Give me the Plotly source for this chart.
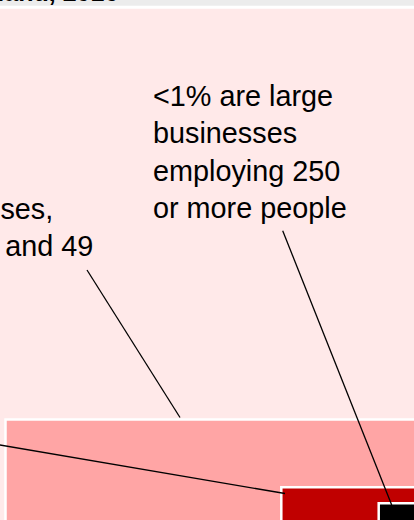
import plotly.graph_objects as go

# Business size bands drawn as nested blocks (chart units, origin top-left, y downwards)
bands = ["Small (10-49 employees)", "Medium (50-249 employees)", "Large (250+ employees)"]
band_x0 = [5.5, 281.3, 378.7]
band_y0 = [419.5, 487.3, 503.3]
band_x1 = [440, 440, 440]
band_y1 = [560, 560, 560]
band_colors = ["#FFA5A5", "#C00000", "#000000"]

# Callout texts
label_texts = [
    "<1% are large<br>businesses<br>employing 250<br>or more people",
    "small businesses,<br>employing 10 and 49",
]
label_x = [152, -175.5]
label_y = [78.5, 192]

# Leader lines from callouts to their blocks
leader_x0 = [282.7, 87, -40]
leader_y0 = [230.7, 270, 438.2]
leader_x1 = [391.7, 180, 285]
leader_y1 = [505, 417.5, 493.5]

title_text = "Businesses by size, Scotland, 2016"

W, H = 414, 520
FONT = "Liberation Sans, Arial, sans-serif"


def px(x):
    # chart units -> paper fraction (horizontal)
    return x / W


def py(y):
    # chart units (downwards) -> paper fraction (upwards)
    return 1 - y / H


fig = go.Figure()

shapes = []
# header strip and chart panel
shapes.append(dict(type="rect", xref="x", yref="y", x0=-10, x1=440, y0=-40, y1=5.7,
                   fillcolor="#ECECEC", line=dict(width=0), layer="below"))
shapes.append(dict(type="rect", xref="x", yref="y", x0=-10, x1=440, y0=8.7, y1=560,
                   fillcolor="#FFE9E9", line=dict(width=0), layer="below"))

for x0, y0, x1, y1, c in zip(band_x0, band_y0, band_x1, band_y1, band_colors):
    shapes.append(dict(type="rect", xref="x", yref="y", x0=x0, y0=y0, x1=x1, y1=y1,
                       fillcolor=c, line=dict(color="white", width=2.5), layer="below"))

for x0, y0, x1, y1 in zip(leader_x0, leader_y0, leader_x1, leader_y1):
    shapes.append(dict(type="line", xref="x", yref="y", x0=x0, y0=y0, x1=x1, y1=y1,
                       line=dict(color="black", width=1.3)))

annotations = []
for t, x, y in zip(label_texts, label_x, label_y):
    annotations.append(dict(text=t, x=px(x), y=py(y), xref="paper", yref="paper",
                            xanchor="left", yanchor="top", align="left",
                            showarrow=False, borderpad=0,
                            font=dict(family=FONT, size=28.8, color="black")))

annotations.append(dict(text="<b>" + title_text + "</b>", x=px(119), y=py(7.4),
                        xref="paper", yref="paper",
                        xanchor="right", yanchor="bottom", showarrow=False, borderpad=0,
                        font=dict(family=FONT, size=25, color="black")))

fig.update_layout(
    width=W, height=H,
    margin=dict(l=0, r=0, t=0, b=0),
    paper_bgcolor="white", plot_bgcolor="white",
    xaxis=dict(range=[0, W], visible=False, fixedrange=True),
    yaxis=dict(range=[H, 0], visible=False, fixedrange=True),
    shapes=shapes, annotations=annotations, showlegend=False,
)

fig.write_html("out.html", config={"displayModeBar": False})
